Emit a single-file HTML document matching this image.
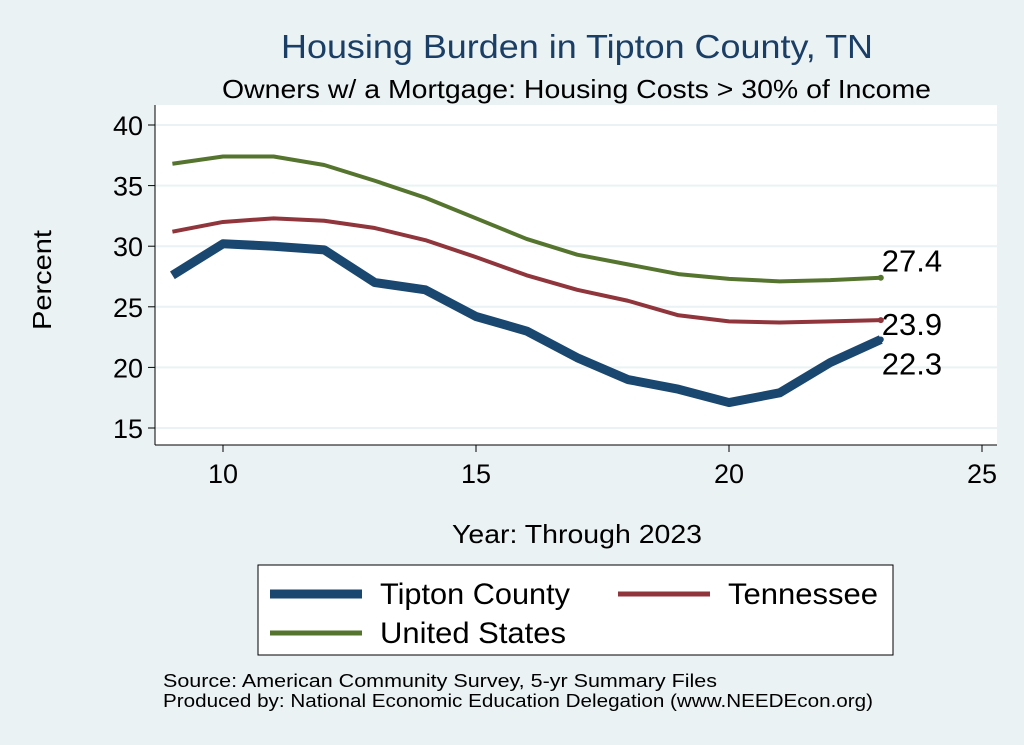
<!DOCTYPE html>
<html><head><meta charset="utf-8"><style>
body{margin:0;background:#eaf2f3;font-family:"Liberation Sans",sans-serif;}
svg{display:block}
</style></head><body>
<svg width="1024" height="745" viewBox="0 0 1024 745">
<rect x="0" y="0" width="1024" height="745" fill="#eaf2f3"/>
<rect x="155" y="105" width="842" height="340" fill="#ffffff"/>
<text x="281" y="58" font-size="33" fill="#1a3e66" textLength="592" lengthAdjust="spacingAndGlyphs">Housing Burden in Tipton County, TN</text>
<text x="222" y="98" font-size="26" fill="#000" textLength="709" lengthAdjust="spacingAndGlyphs">Owners w/ a Mortgage: Housing Costs &gt; 30% of Income</text>
<g id="grid"></g><g id="axes"></g><g id="series"></g>
<text x="51" y="280" font-size="26" text-anchor="middle" transform="rotate(-90 51 280)" textLength="100" lengthAdjust="spacingAndGlyphs">Percent</text>
<text x="452" y="543" font-size="26" textLength="250" lengthAdjust="spacingAndGlyphs">Year: Through 2023</text>
<g>
<rect x="258" y="565" width="635" height="90" fill="#fff" stroke="#000" stroke-width="1"/>
<g><line x1="270" y1="594" x2="362" y2="594" stroke="#1a476f" stroke-width="9"/><text x="380" y="604" font-size="30" textLength="190" lengthAdjust="spacingAndGlyphs">Tipton County</text></g>
<g><line x1="618" y1="594" x2="710" y2="594" stroke="#90353b" stroke-width="5"/><text x="728" y="604" font-size="30" textLength="150" lengthAdjust="spacingAndGlyphs">Tennessee</text></g>
<g><line x1="270" y1="633" x2="362" y2="633" stroke="#55752f" stroke-width="5"/><text x="380" y="643" font-size="30" textLength="186" lengthAdjust="spacingAndGlyphs">United States</text></g>
</g>
<text x="163" y="687" font-size="18" textLength="554" lengthAdjust="spacingAndGlyphs">Source: American Community Survey, 5-yr Summary Files</text>
<text x="163" y="707" font-size="18" textLength="710" lengthAdjust="spacingAndGlyphs">Produced by: National Economic Education Delegation (www.NEEDEcon.org)</text>
</svg>
<script>
const years=[9,10,11,12,13,14,15,16,17,18,19,20,21,22,23];
const usVals=[36.8,37.4,37.4,36.7,35.4,34.0,32.3,30.6,29.3,28.5,27.7,27.3,27.1,27.2,27.4];
const tnVals=[31.2,32.0,32.3,32.1,31.5,30.5,29.1,27.6,26.4,25.5,24.3,23.8,23.7,23.8,23.9];
const tiptonVals=[27.6,30.2,30.0,29.7,27.0,26.4,24.2,23.0,20.8,19.0,18.2,17.1,17.9,20.4,22.3];
const yTicks=[15,20,25,30,35,40];
const xTicks=[10,15,20,25];
const NS="http://www.w3.org/2000/svg";
const xs=v=>223+(v-10)*50.6;
const ys=v=>125+(40-v)*12.12;
function mk(tag,attrs,parent){const e=document.createElementNS(NS,tag);for(const k in attrs)e.setAttribute(k,attrs[k]);parent.appendChild(e);return e;}
const grid=document.getElementById('grid'),axes=document.getElementById('axes'),ser=document.getElementById('series');
yTicks.forEach(t=>{
 const g=mk('line',{x1:155,x2:997,y1:ys(t),y2:ys(t),stroke:'#eaf2f3','stroke-width':2},grid);
 
 
 const tk=mk('line',{x1:148,x2:155,y1:ys(t),y2:ys(t),stroke:'#000'},axes);
 
 
 const tx=mk('text',{x:143,y:ys(t)+10,'font-size':27,'text-anchor':'end'},axes);tx.textContent=t;
 
 
});
xTicks.forEach(t=>{
 const tk=mk('line',{x1:xs(t),x2:xs(t),y1:445,y2:452,stroke:'#000'},axes);
 
 
 const tx=mk('text',{x:xs(t),y:483,'font-size':27,'text-anchor':'middle'},axes);tx.textContent=t;
 
 
});
const ya=mk('line',{x1:155,x2:155,y1:105,y2:445,stroke:'#000'},axes);


const xa=mk('line',{x1:155,x2:997,y1:445,y2:445,stroke:'#000'},axes);


function line(vals,color,w,name,labelDy){
 const p=mk('polyline',{points:years.map((y,i)=>xs(y)+','+ys(vals[i])).join(' '),fill:'none',stroke:color,'stroke-width':w,'stroke-linejoin':'round'},ser);
 
 
 const last=vals.length-1;
 const c=mk('circle',{cx:xs(years[last]),cy:ys(vals[last]),r:3,fill:color},ser);
 
 
 const t=mk('text',{x:xs(years[last])+1,y:ys(vals[last])+labelDy,'font-size':31},ser);
 t.textContent=vals[last].toFixed(1);
 
 
}
line(usVals,'#55752f',4,'united-states',-6);
line(tnVals,'#90353b',4,'tennessee',15);
line(tiptonVals,'#1a476f',9,'tipton-county',35);
</script>
</body></html>
